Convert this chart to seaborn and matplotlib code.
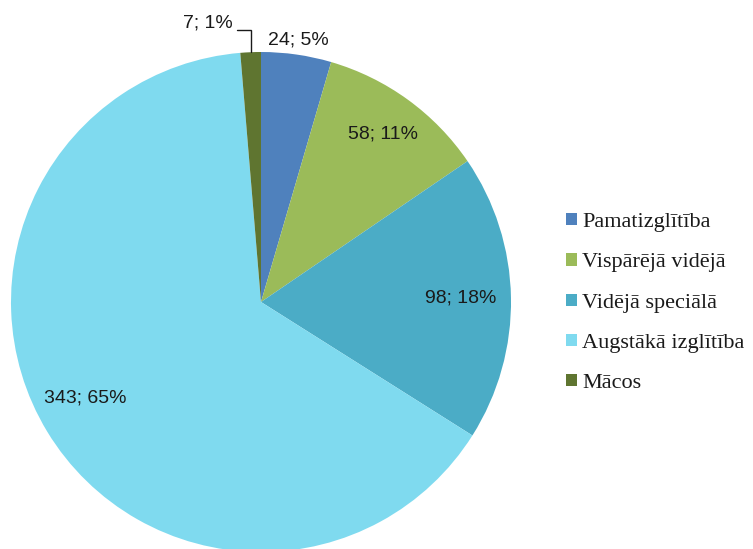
import numpy as np
import matplotlib
matplotlib.use("Agg")
import matplotlib.pyplot as plt
import seaborn as sns

# data
categories = ["Pamatizglītība", "Vispārējā vidējā", "Vidējā speciālā",
              "Augstākā izglītība", "Mācos"]
counts = [24, 58, 98, 343, 7]
percent_labels = ["5%", "11%", "18%", "65%", "1%"]
colors = ["#4F81BD", "#9BBB59", "#4BACC6", "#7FDAEF", "#5F7530"]

sns.set_theme(style="white")
plt.rcParams["font.family"] = ["Liberation Sans", "DejaVu Sans"]

fig = plt.figure(figsize=(7.53, 5.49), dpi=100)
ax = fig.add_axes([11 / 753, -3 / 549, 500 / 753, 500 / 549])

wedges, _ = ax.pie(counts, colors=colors, startangle=90, counterclock=False,
                   radius=1.0, wedgeprops=dict(linewidth=0))
ax.set_xlim(-1, 1)
ax.set_ylim(-1, 1)
ax.set_aspect("equal")
ax.axis("off")

# data labels placed along each wedge's mid-angle (small angle nudge)
label_radius = [1.06, 0.83, 0.80, 0.80]
angle_nudge = [0, 0, 0, -2.5]
for i, w in enumerate(wedges[:4]):
    mid = np.deg2rad((w.theta1 + w.theta2) / 2 + angle_nudge[i])
    r = label_radius[i]
    ax.text(r * np.cos(mid), r * np.sin(mid), f"{counts[i]}; {percent_labels[i]}",
            ha="center", va="center", fontsize=14, color="#1a1a1a")

# small slice with leader line
w = wedges[4]
mid = np.deg2rad((w.theta1 + w.theta2) / 2)
x0, y0 = np.cos(mid), np.sin(mid)
ax.plot([x0, x0, x0 - 0.056], [y0, 1.088, 1.088], color="#1a1a1a", lw=1,
        clip_on=False, solid_joinstyle="miter")
ax.text(x0 - 0.07, 1.118, f"{counts[4]}; {percent_labels[4]}", ha="right",
        va="center", fontsize=14, color="#1a1a1a")

fig.legend(wedges, categories, loc="upper left",
           bbox_to_anchor=(555 / 753, 1 - 202 / 549), frameon=False,
           prop={"family": ["Liberation Serif"], "size": 16},
           handlelength=0.48, handleheight=0.48, handletextpad=0.25,
           labelspacing=0.95, borderpad=0, labelcolor="#1a1a1a")

fig.savefig("out.png", dpi=100)
